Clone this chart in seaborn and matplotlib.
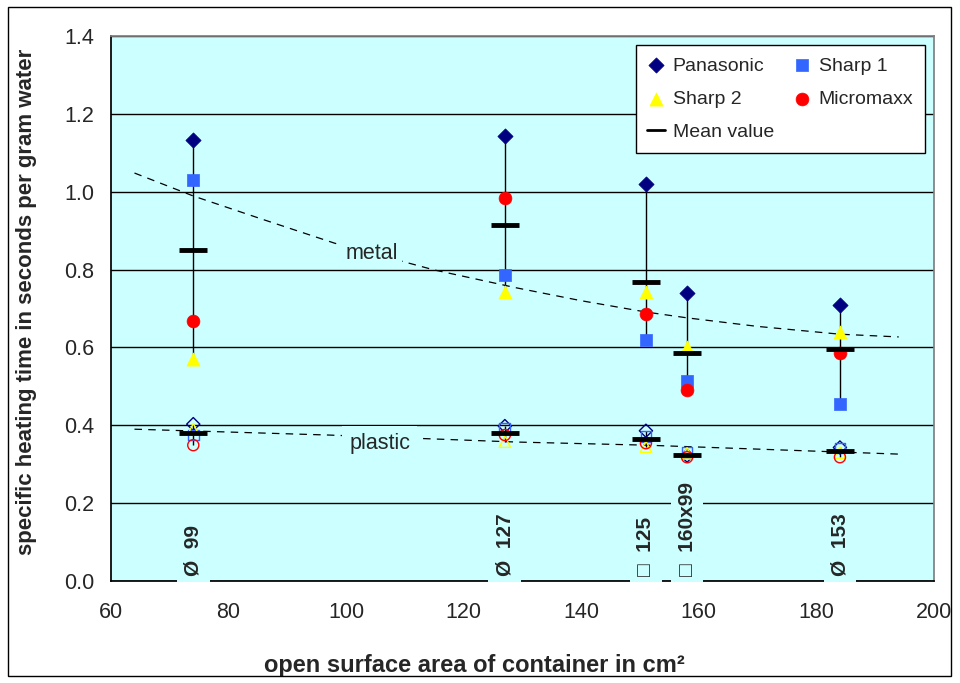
"""
Specific heating time of water vs. open surface area of the container
(metal and plastic containers, four microwave ovens)
"""

import matplotlib

matplotlib.use("Agg")
import matplotlib.pyplot as plt
import numpy as np
import pandas as pd
import seaborn as sns
from matplotlib.lines import Line2D
from matplotlib.patches import Rectangle

# container: open surface area in cm² and its shape label
area = [74, 127, 151, 158, 184]
container_labels = ["Ø  99", "Ø  127", "□  125", "□  160x99", "Ø  153"]

# metal containers (s per g water)
metal_panasonic = [1.133, 1.143, 1.020, 0.739, 0.709]
metal_sharp1 = [1.030, 0.786, 0.619, 0.514, 0.455]
metal_sharp2 = [0.570, 0.742, 0.743, 0.602, 0.640]
metal_micromaxx = [0.668, 0.985, 0.686, 0.491, 0.585]

# plastic containers (s per g water)
plastic_panasonic = [0.403, 0.398, 0.386, 0.322, 0.343]
plastic_sharp1 = [0.375, 0.393, 0.371, 0.330, 0.342]
plastic_sharp2 = [0.390, 0.358, 0.345, 0.328, 0.330]
plastic_micromaxx = [0.349, 0.375, 0.354, 0.318, 0.318]

# trend lines
metal_trend_x = [64, 74, 86, 98, 115, 129, 140, 151, 158, 170, 184, 194]
metal_trend_y = [1.048, 0.989, 0.928, 0.868, 0.799, 0.753, 0.720, 0.691, 0.676, 0.654, 0.634, 0.627]
plastic_trend_x = [64, 97, 129, 151, 194]
plastic_trend_y = [0.390, 0.375, 0.357, 0.349, 0.326]

brands = ["Panasonic", "Sharp 1", "Sharp 2", "Micromaxx"]
brand_markers = {"Panasonic": "D", "Sharp 1": "s", "Sharp 2": "^", "Micromaxx": "o"}
brand_colors = {"Panasonic": "#000080", "Sharp 1": "#3366FF", "Sharp 2": "#FFFF00", "Micromaxx": "#FF0000"}
brand_sizes = {"Panasonic": 60, "Sharp 1": 80, "Sharp 2": 90, "Micromaxx": 85}

BG = "#CCFFFF"

sns.set_theme(style="white")
plt.rcParams["font.family"] = ["Liberation Sans", "DejaVu Sans"]
plt.rcParams["axes.unicode_minus"] = False

fig = plt.figure(figsize=(9.6, 6.83), dpi=100)
ax = fig.add_axes([0.1156, 0.1493, 0.8573, 0.7980])
ax.set_facecolor(BG)

materials = {
    "metal": pd.DataFrame({"area": area, "Panasonic": metal_panasonic, "Sharp 1": metal_sharp1,
                           "Sharp 2": metal_sharp2, "Micromaxx": metal_micromaxx}),
    "plastic": pd.DataFrame({"area": area, "Panasonic": plastic_panasonic, "Sharp 1": plastic_sharp1,
                             "Sharp 2": plastic_sharp2, "Micromaxx": plastic_micromaxx}),
}

for material, df in materials.items():
    # 最小値〜最大値の縦線
    ax.vlines(df["area"], df[brands].min(axis=1), df[brands].max(axis=1), color="black", lw=1, zorder=3)

    long = df.melt(id_vars="area", value_vars=brands, var_name="brand", value_name="time")
    for brand in brands:
        sub = long[long["brand"] == brand]
        c = brand_colors[brand]
        if material == "metal":
            sns.scatterplot(data=sub, x="area", y="time", marker=brand_markers[brand], color=c,
                            edgecolor=c, linewidth=0.5, s=brand_sizes[brand], ax=ax, zorder=5, label=brand)
        else:
            sns.scatterplot(data=sub, x="area", y="time", marker=brand_markers[brand], color=c,
                            facecolor="none", edgecolor=c, linewidth=1, s=brand_sizes[brand] * 0.75,
                            ax=ax, zorder=5, legend=False)

    mean = pd.DataFrame({"area": df["area"], "time": df[brands].mean(axis=1)})
    sns.scatterplot(data=mean, x="area", y="time", marker="_", color="black", s=380, linewidth=3.5,
                    ax=ax, zorder=6, legend=False)

# trend lines
sns.lineplot(x=metal_trend_x, y=metal_trend_y, color="black", lw=0.9, linestyle=(0, (6, 5)), sort=False,
             ax=ax, zorder=2.5)
sns.lineplot(x=plastic_trend_x, y=plastic_trend_y, color="black", lw=0.9, linestyle=(0, (6, 5)), sort=False,
             ax=ax, zorder=2.5)

ax.text(104.4, 0.842, "metal", fontsize=15.5, ha="center", va="center", zorder=4,
        bbox=dict(facecolor=BG, edgecolor="none", pad=3))
ax.text(105.7, 0.354, "plastic", fontsize=15.5, ha="center", va="center", zorder=4,
        bbox=dict(facecolor=BG, edgecolor="none", pad=5))

# container labels
for x, lab in zip(area, container_labels):
    ax.text(x, 0.014, lab, rotation=90, fontsize=15, fontweight="bold", ha="center", va="bottom",
            zorder=4, bbox=dict(facecolor=BG, edgecolor="none", pad=5))

ax.set_xlim(60, 200)
ax.set_ylim(0, 1.4)
ax.set_xticks(np.arange(60, 201, 20))
ax.set_yticks(np.arange(0, 1.41, 0.2))
ax.set_yticklabels([f"{v:.1f}" for v in np.arange(0, 1.41, 0.2)])
ax.tick_params(axis="both", direction="out", length=6, width=1, color="black", labelsize=15.5, pad=6)
ax.tick_params(axis="x", pad=9)
ax.yaxis.grid(True, color="black", lw=1)
ax.xaxis.grid(False)
ax.set_axisbelow(True)
for side in ["left", "bottom"]:
    ax.spines[side].set_color("black")
for side in ["top", "right"]:
    ax.spines[side].set_color("#808080")

ax.set_xlabel("open surface area of container in cm²", fontsize=17, fontweight="bold")
ax.set_ylabel("specific heating time in seconds per gram water", fontsize=16, fontweight="bold")
ax.xaxis.set_label_coords(0.442, -0.133)
ax.yaxis.set_label_coords(-0.09, 0.512)

handles, labels = ax.get_legend_handles_labels()
lookup = dict(zip(labels, handles))
lookup["Mean value"] = Line2D([], [], color="black", lw=2)
order = ["Panasonic", "Sharp 2", "Mean value", "Sharp 1", "Micromaxx"]
ax.legend([lookup[k] for k in order], order, ncol=2, loc="upper right", bbox_to_anchor=(0.989, 0.983),
          borderaxespad=0, fontsize=14, frameon=True, fancybox=False, framealpha=1, facecolor="white",
          edgecolor="black", handletextpad=0.4, columnspacing=1.0, labelspacing=0.8, handlelength=0.9,
          borderpad=0.6)

fig.patches.append(Rectangle((8 / 960, 7 / 683), 943 / 960, 669 / 683, transform=fig.transFigure,
                             fill=False, edgecolor="black", lw=1))

fig.savefig("out.png", dpi=100, facecolor="white")
plt.close(fig)
